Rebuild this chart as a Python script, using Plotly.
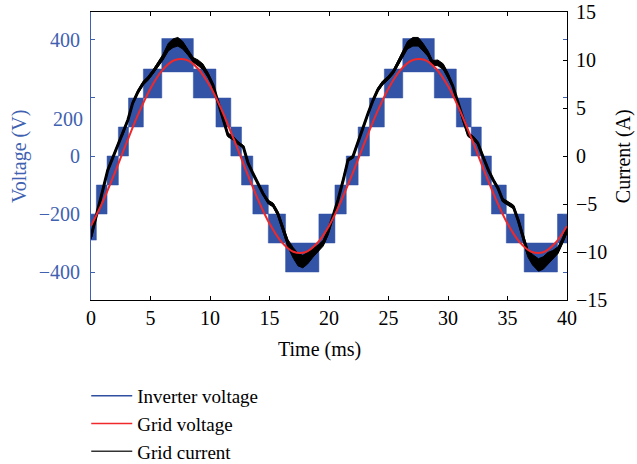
import plotly.graph_objects as go

# ---- data -------------------------------------------------------------
# Inverter output: multilevel staircase, PWM between two adjacent levels
inv_edges = [0, 0.45, 1.35, 2.3, 3.15, 4.4, 5.95, 8.6, 10.5, 11.75, 12.65, 13.6,
             14.9, 16.35, 19.15, 20.5, 21.45, 22.45, 23.4, 24.65, 26.2, 28.85,
             30.7, 31.95, 32.8, 33.65, 34.9, 36.4, 39.2, 40]
inv_low = [-290, -200, -100, 0, 100, 200, 290, 200, 100, 0, -100, -200, -300, -400,
           -300, -200, -100, 0, 100, 200, 290, 200, 100, 0, -100, -200, -300, -400, -300]
inv_high = [-200, -100, 0, 100, 200, 300, 405, 300, 200, 100, 0, -100, -200, -300,
            -200, -100, 0, 100, 200, 300, 405, 300, 200, 100, 0, -100, -200, -300, -200]

# Grid voltage (V), sampled every 1 ms
grid_t = list(range(0, 41))
grid_v = [-241, -157, -58, 47, 147, 233, 296, 330, 332, 301, 241, 157, 58, -47,
          -147, -233, -296, -330, -332, -301, -241, -157, -58, 47, 147, 233, 296,
          330, 332, 301, 241, 157, 58, -47, -147, -233, -296, -330, -332, -301, -241]

# Grid current (A): centre trace and half-width of the ripple band
cur_t = [0, 0.6, 1.0, 1.4, 1.85, 2.3, 2.7, 3.1, 3.5, 3.95,
         4.4, 4.8, 5.2, 5.6, 6.05, 6.5, 6.9, 7.3, 7.7, 8.15,
         8.6, 9.0, 9.4, 9.85, 10.25, 10.7, 11.1, 11.5, 11.9, 12.35,
         12.8, 13.2, 13.6, 14.0, 14.45, 14.9, 15.3, 15.7, 16.1, 16.55,
         17.0, 17.4, 17.8, 18.2, 18.65, 19.1, 19.5, 19.9, 20.3, 20.75,
         21.2, 21.6, 22.0, 22.4, 22.85, 23.3, 23.7, 24.1, 24.5, 24.95,
         25.4, 25.8, 26.2, 26.6, 27.05, 27.5, 27.9, 28.3, 28.7, 29.15,
         29.6, 30.0, 30.4, 30.85, 31.25, 31.7, 32.1, 32.5, 32.95, 33.4,
         33.8, 34.2, 34.6, 35.0, 35.5, 35.9, 36.3, 36.7, 37.1, 37.6,
         38.0, 38.4, 38.8, 39.25, 39.65, 40.0]
cur_a = [-8.4, -5.6, -3.5, -1.5, -0.1, 1.35, 2.4, 3.75, 5.5, 6.7,
         7.6, 8.1, 8.75, 9.5, 10.3, 11.35, 11.75, 11.9, 11.55, 10.8,
         10.0, 9.7, 9.3, 8.4, 7.4, 5.5, 3.75, 2.2, 1.9, 1.35,
         0.95, -0.75, -1.8, -2.8, -3.9, -4.8, -5.1, -6.0, -7.4, -9.1,
         -10.1, -10.8, -11.0, -10.65, -10.1, -9.6, -9.1, -8.0, -6.5, -4.6,
         -2.5, -0.4, -0.1, 1.35, 3.0, 4.5, 5.8, 6.9, 7.6, 8.1,
         8.75, 9.7, 10.7, 11.55, 11.9, 11.9, 11.35, 10.7, 9.7, 9.7,
         9.3, 8.4, 7.3, 5.5, 3.75, 2.2, 1.9, 1.35, -0.1, -1.5,
         -2.5, -3.35, -4.6, -4.9, -5.3, -6.7, -8.4, -10.1, -10.8, -11.35,
         -11.15, -10.65, -10.3, -9.8, -8.75, -7.7]
cur_spread = [0.3, 0.2, 0.15, 0.15, 0.15, 0.15, 0.15, 0.15, 0.15, 0.2,
              0.2, 0.2, 0.2, 0.25, 0.3, 0.4, 0.45, 0.45, 0.4, 0.3,
              0.25, 0.3, 0.3, 0.25, 0.15, 0.15, 0.15, 0.2, 0.2, 0.15,
              0.15, 0.15, 0.15, 0.15, 0.15, 0.2, 0.2, 0.25, 0.3, 0.4,
              0.55, 0.65, 0.65, 0.6, 0.45, 0.35, 0.3, 0.3, 0.2, 0.15,
              0.15, 0.15, 0.15, 0.15, 0.15, 0.15, 0.15, 0.2, 0.2, 0.2,
              0.2, 0.25, 0.3, 0.4, 0.45, 0.45, 0.4, 0.3, 0.25, 0.3,
              0.3, 0.25, 0.15, 0.15, 0.15, 0.2, 0.2, 0.15, 0.15, 0.15,
              0.15, 0.15, 0.2, 0.2, 0.2, 0.25, 0.3, 0.4, 0.55, 0.65,
              0.65, 0.6, 0.45, 0.35, 0.3, 0.3]

x_ticks = [0, 5, 10, 15, 20, 25, 30, 35, 40]
v_ticks = [-400, -200, 0, 200, 400]
i_ticks = [-15, -10, -5, 0, 5, 10, 15]

# ---- styling ----------------------------------------------------------
BLUE = "#3353a6"
AXBLUE = "#4061b0"
RED = "#f0282a"
FONT = "Liberation Serif"
FS = 20
V_RANGE = [-496.5, 496.5]

fig = go.Figure()

# Inverter voltage band (step edges held until the next switching instant)
step_x = inv_edges[:-1] + [inv_edges[-1]]
fig.add_trace(go.Scatter(x=step_x, y=inv_low + [inv_low[-1]], mode="lines",
                         line=dict(color=BLUE, width=0.5, shape="hv"),
                         showlegend=False, hoverinfo="skip", yaxis="y"))
fig.add_trace(go.Scatter(x=step_x, y=inv_high + [inv_high[-1]], mode="lines",
                         line=dict(color=BLUE, width=0.5, shape="hv"),
                         fill="tonexty", fillcolor=BLUE,
                         showlegend=False, hoverinfo="skip", yaxis="y"))

# Grid current: ripple band plus centre trace (right axis)
cur_lo = [a - s for a, s in zip(cur_a, cur_spread)]
cur_hi = [a + s for a, s in zip(cur_a, cur_spread)]
fig.add_trace(go.Scatter(x=cur_t, y=cur_lo, mode="lines",
                         line=dict(color="black", width=1),
                         showlegend=False, hoverinfo="skip", yaxis="y2"))
fig.add_trace(go.Scatter(x=cur_t, y=cur_hi, mode="lines",
                         line=dict(color="black", width=1),
                         fill="tonexty", fillcolor="black",
                         showlegend=False, hoverinfo="skip", yaxis="y2"))
fig.add_trace(go.Scatter(x=cur_t, y=cur_a, mode="lines",
                         line=dict(color="black", width=3),
                         showlegend=False, yaxis="y2"))

# Grid voltage on top (overlay axis sharing the voltage range)
fig.add_trace(go.Scatter(x=grid_t, y=grid_v, mode="lines",
                         line=dict(color=RED, width=2, shape="spline"),
                         showlegend=False, yaxis="y3"))

# Legend entries
for name, col in [("Inverter voltage", "#2f4fa0"), ("Grid voltage", RED),
                  ("Grid current", "#333333")]:
    fig.add_trace(go.Scatter(x=[None], y=[None], mode="lines", name=name,
                             line=dict(color=col, width=1.5)))

fig.update_layout(
    width=637, height=464,
    margin=dict(l=91, r=70, t=12, b=164, autoexpand=False),
    paper_bgcolor="white", plot_bgcolor="white",
    font=dict(family=FONT, size=FS, color="black"),
    xaxis=dict(range=[0, 40], tickvals=x_ticks, ticks="inside", ticklen=4,
               tickcolor="black", showline=True, linecolor="black", linewidth=1,
               mirror="ticks", showgrid=False, zeroline=False,
               ticklabelstandoff=0, tickfont=dict(color="black")),
    yaxis=dict(range=V_RANGE, tickvals=v_ticks,
               ticktext=["\u2212400", "\u2212200", "0", "", "400"],
               ticks="inside", ticklen=4, tickcolor=AXBLUE, showline=True,
               linecolor=AXBLUE, linewidth=1, mirror="ticks", showgrid=False,
               zeroline=False, ticklabelstandoff=6,
               tickfont=dict(color=AXBLUE)),
    yaxis2=dict(range=[-15, 15], tickvals=i_ticks,
                ticktext=["\u221215", "\u221210", "\u22125", "0", "5", "10", "15"],
                overlaying="y", side="right", ticks="inside", ticklen=4,
                tickcolor="black", showline=True, linecolor="black", linewidth=1,
                showgrid=False, zeroline=False, ticklabelstandoff=4,
                tickfont=dict(color="black")),
    yaxis3=dict(range=V_RANGE, overlaying="y", visible=False),
    legend=dict(x=-0.01, xanchor="left", y=-0.267, yanchor="top",
                orientation="v", itemwidth=41, traceorder="normal",
                font=dict(family=FONT, size=19, color="black"),
                bgcolor="rgba(0,0,0,0)"),
    showlegend=True,
)

fig.add_annotation(text="Voltage (V)", xref="paper", yref="paper",
                   x=-0.151, y=0.5, xanchor="center", yanchor="middle",
                   textangle=-90, showarrow=False,
                   font=dict(color=AXBLUE, size=FS))
fig.add_annotation(text="Current (A)", xref="paper", yref="paper",
                   x=1.118, y=0.5, xanchor="center", yanchor="middle",
                   textangle=-90, showarrow=False,
                   font=dict(color="black", size=FS))
fig.add_annotation(text="Time (ms)", xref="paper", yref="paper",
                   x=0.481, y=-0.1736, xanchor="center", yanchor="middle",
                   showarrow=False, font=dict(color="black", size=FS))
# the 200 V label sits a little below its tick
fig.add_annotation(text="200", xref="paper", yref="y", x=0, y=128,
                   xanchor="right", yanchor="middle", xshift=-6, showarrow=False,
                   font=dict(color=AXBLUE, size=FS))

fig.write_html("out.html")
